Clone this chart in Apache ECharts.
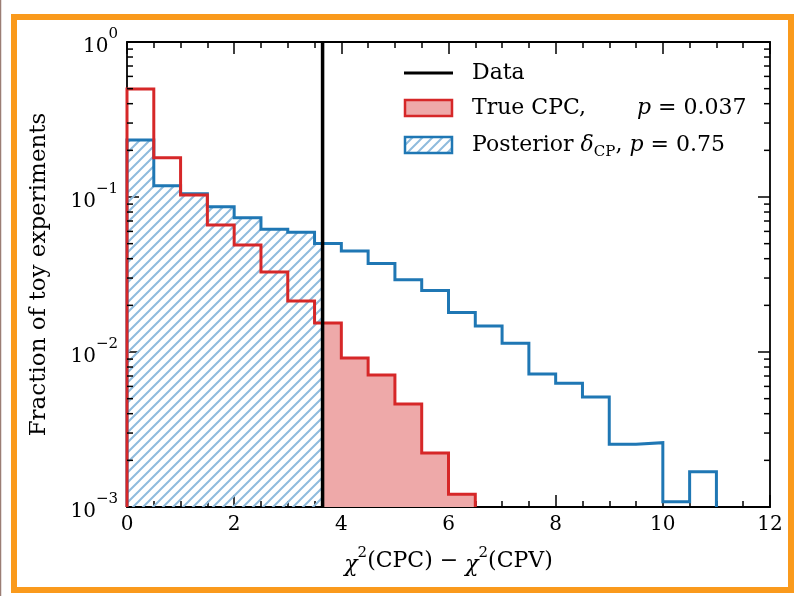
<!DOCTYPE html>
<html>
<head>
<meta charset="utf-8">
<script src="https://cdn.jsdelivr.net/npm/echarts@6/dist/echarts.min.js"></script>
<style>
html, body { margin: 0; padding: 0; background: #ffffff; }
#chart { width: 797px; height: 596px; }
</style>
</head>
<body>
<div id="chart"></div>
<script>
// Histogram binning (bins start at 0 and are 0.5 wide)
const BIN_WIDTH = 0.5;
// Fraction of toy experiments per bin, true CP-conserving hypothesis
const TRUE_CPC = [0.497, 0.179, 0.103, 0.066, 0.049, 0.0328, 0.0213, 0.0154,
                  0.00915, 0.00711, 0.00462, 0.00223, 0.00121];
// Fraction of toy experiments per bin, posterior delta_CP
const POSTERIOR = [0.233, 0.118, 0.105, 0.0866, 0.0736, 0.0619, 0.0592, 0.0502,
                   0.0448, 0.0373, 0.0292, 0.0249, 0.018, 0.0147, 0.0114, 0.00721,
                   0.00628, 0.00513, 0.00254, 0.0026, 0.00108, 0.00169];
// Observed test statistic
const DATA_VALUE = 3.65;
// Axis ranges
const X_MIN = 0, X_MAX = 12, X_STEP = 2;
const Y_MIN = 0.001, Y_MAX = 1;
// Minor log ticks (2..9 within each decade)
const Y_MINOR = [];
[0.001, 0.01, 0.1].forEach(d => { for (let k = 2; k <= 9; k++) Y_MINOR.push(+(k * d).toPrecision(3)); });
// Legend texts
const P_TRUE = '0.037';
const P_POST = '0.75';

const FONT = '"DejaVu Serif", "Liberation Serif", serif';
const RED = '#d62728', RED_FILL = '#eea9a9', BLUE = '#1f77b4', HATCH = '#8fbbdd';

// Diagonal hatch tile
function hatchTile() {
  const s = 10;
  const c = document.createElement('canvas');
  c.width = s; c.height = s;
  const g = c.getContext('2d');
  g.strokeStyle = HATCH; g.lineWidth = 2; g.lineCap = 'square';
  g.beginPath();
  g.moveTo(-1, s + 1); g.lineTo(s + 1, -1);
  g.moveTo(-2, 2); g.lineTo(2, -2);
  g.moveTo(s - 2, s + 2); g.lineTo(s + 2, s - 2);
  g.stroke();
  return c;
}
const HATCH_FILL = { image: hatchTile(), repeat: 'repeat' };

// Step outline of a histogram, closed down to the axis floor
function outline(values) {
  const pts = [[0, Y_MIN]];
  values.forEach((v, i) => { pts.push([i * BIN_WIDTH, v], [(i + 1) * BIN_WIDTH, v]); });
  pts.push([values.length * BIN_WIDTH, Y_MIN]);
  return pts;
}
// Filled region under a histogram restricted to [x0, x1]
function region(values, x0, x1) {
  const end = Math.min(values.length * BIN_WIDTH, x1);
  const pts = [[x0, Y_MIN]];
  values.forEach((v, i) => {
    const a = Math.max(i * BIN_WIDTH, x0), b = Math.min((i + 1) * BIN_WIDTH, x1);
    if (b > a) pts.push([a, v], [b, v]);
  });
  pts.push([end, Y_MIN]);
  return pts;
}

function polygonSeries(pts, fill, z) {
  return {
    type: 'custom', z: z, silent: true, clip: true,
    data: [[X_MIN, Y_MIN]],
    renderItem: (params, api) => ({
      type: 'polygon',
      shape: { points: pts.map(p => api.coord(p)) },
      style: { fill: fill, stroke: null }
    })
  };
}

function lineSeries(pts, color, width, z) {
  return {
    type: 'line', data: pts, z: z, symbol: 'none', silent: true,
    lineStyle: { color: color, width: width, join: 'miter' }, animation: false
  };
}

const tickStyle = { color: '#000', width: 1.5 };
const xAxisBase = {
  type: 'value', min: X_MIN, max: X_MAX, interval: X_STEP,
  axisLine: { show: true, onZero: false, lineStyle: { color: '#000', width: 1.8 } },
  axisTick: { show: true, inside: true, length: 12, lineStyle: tickStyle },
  minorTick: { show: true, splitNumber: 4, length: 6, lineStyle: tickStyle },
  splitLine: { show: false }
};
const yAxisBase = {
  type: 'log', logBase: 10, min: Y_MIN, max: Y_MAX,
  axisLine: { show: true, onZero: false, lineStyle: { color: '#000', width: 1.8 } },
  axisTick: { show: true, inside: true, length: 12, lineStyle: tickStyle },
  splitLine: { show: false }
};

const chart = echarts.init(document.getElementById('chart'), null, { renderer: 'canvas' });

const option = {
  animation: false,
  backgroundColor: '#ffffff',
  grid: { left: 127, top: 42, right: 27, bottom: 89, containLabel: false },
  xAxis: [
    Object.assign({}, xAxisBase, {
      position: 'bottom',
      axisLabel: { color: '#000', fontFamily: FONT, fontSize: 20, margin: 8 },
      name: '{i|χ}{s|2}(CPC) − {i|χ}{s|2}(CPV)',
      nameLocation: 'middle', nameGap: 39,
      nameTextStyle: {
        color: '#000', fontFamily: FONT, fontSize: 22,
        rich: {
          i: { fontFamily: FONT, fontSize: 22, fontStyle: 'italic', lineHeight: 30, verticalAlign: 'bottom' },
          s: { fontFamily: FONT, fontSize: 15, verticalAlign: 'top', lineHeight: 30 }
        }
      }
    }),
    Object.assign({}, xAxisBase, { position: 'top', axisLabel: { show: false } })
  ],
  yAxis: [
    Object.assign({}, yAxisBase, {
      position: 'left',
      axisLabel: {
        color: '#000', margin: 9,
        formatter: v => {
          const e = Math.round(Math.log10(v));
          return '{b|10}{s|' + (e < 0 ? '−' + (-e) : String(e)) + '}';
        },
        rich: {
          b: { fontFamily: FONT, fontSize: 20, color: '#000', lineHeight: 30, verticalAlign: 'bottom' },
          s: { fontFamily: FONT, fontSize: 15, color: '#000', lineHeight: 30, verticalAlign: 'top' }
        }
      },
      name: 'Fraction of toy experiments',
      nameLocation: 'middle', nameGap: 76, nameRotate: 90,
      nameTextStyle: { color: '#000', fontFamily: FONT, fontSize: 23 }
    }),
    Object.assign({}, yAxisBase, { position: 'right', axisLabel: { show: false } })
  ],
  series: [
    polygonSeries(region(POSTERIOR, X_MIN, DATA_VALUE), HATCH_FILL, 1),
    polygonSeries(region(TRUE_CPC, DATA_VALUE, X_MAX), RED_FILL, 1),
    lineSeries(outline(POSTERIOR), BLUE, 3, 3),
    lineSeries(outline(TRUE_CPC), RED, 3, 4),
    lineSeries([[DATA_VALUE, Y_MIN], [DATA_VALUE, Y_MAX]], '#000', 3.5, 5),
    {
      // minor ticks of the log axis, on the left and right frame edges
      type: 'custom', z: 6, silent: true, clip: false,
      data: Y_MINOR.map(v => [X_MIN, v]),
      renderItem: (params, api) => {
        const v = api.value(1);
        const l = api.coord([X_MIN, v]);
        const r = api.coord([X_MAX, v]);
        return {
          type: 'group',
          children: [
            { type: 'line', shape: { x1: l[0], y1: l[1], x2: l[0] + 6, y2: l[1] }, style: { stroke: '#000', lineWidth: 1.5 } },
            { type: 'line', shape: { x1: r[0] - 6, y1: r[1], x2: r[0], y2: r[1] }, style: { stroke: '#000', lineWidth: 1.5 } }
          ]
        };
      }
    }
  ],
  graphic: [
    // decorative frame
    { type: 'rect', z: 100, silent: true,
      shape: { x: 14, y: 17, width: 777, height: 573 },
      style: { fill: null, stroke: '#fa9a1c', lineWidth: 6 } },
    { type: 'line', z: 100, silent: true,
      shape: { x1: 0.5, y1: 0, x2: 0.5, y2: 596 },
      style: { stroke: '#9b7e74', lineWidth: 1.5 } },
    // legend
    { type: 'line', z: 50, shape: { x1: 404, y1: 73, x2: 453, y2: 73 },
      style: { stroke: '#000', lineWidth: 3 } },
    { type: 'text', z: 50, x: 472, y: 73,
      style: { text: 'Data', fill: '#000', font: '22px ' + FONT, verticalAlign: 'middle' } },
    { type: 'rect', z: 50, shape: { x: 405, y: 100, width: 47, height: 16 },
      style: { fill: RED_FILL, stroke: RED, lineWidth: 2.5 } },
    { type: 'text', z: 50, x: 472, y: 108,
      style: { text: 'True CPC,', fill: '#000', font: '22px ' + FONT, verticalAlign: 'middle' } },
    { type: 'text', z: 50, x: 637, y: 108,
      style: {
        text: '{i|p}{n| = ' + P_TRUE + '}', fill: '#000', verticalAlign: 'middle',
        rich: {
          i: { fontFamily: FONT, fontSize: 22, fontStyle: 'italic' },
          n: { fontFamily: FONT, fontSize: 22 }
        }
      } },
    { type: 'rect', z: 50, shape: { x: 405, y: 137, width: 47, height: 16 },
      style: { fill: HATCH_FILL, stroke: BLUE, lineWidth: 2.5 } },
    { type: 'text', z: 50, x: 472, y: 145,
      style: {
        text: '{n|Posterior }{i|δ}{sub|CP}{n|, }{i|p}{n| = ' + P_POST + '}',
        fill: '#000', verticalAlign: 'middle',
        rich: {
          n: { fontFamily: FONT, fontSize: 22, lineHeight: 30, verticalAlign: 'middle' },
          i: { fontFamily: FONT, fontSize: 22, fontStyle: 'italic', lineHeight: 30, verticalAlign: 'middle' },
          sub: { fontFamily: FONT, fontSize: 15, lineHeight: 16, verticalAlign: 'bottom' }
        }
      } }
  ]
};

chart.setOption(option);
</script>
</body>
</html>
